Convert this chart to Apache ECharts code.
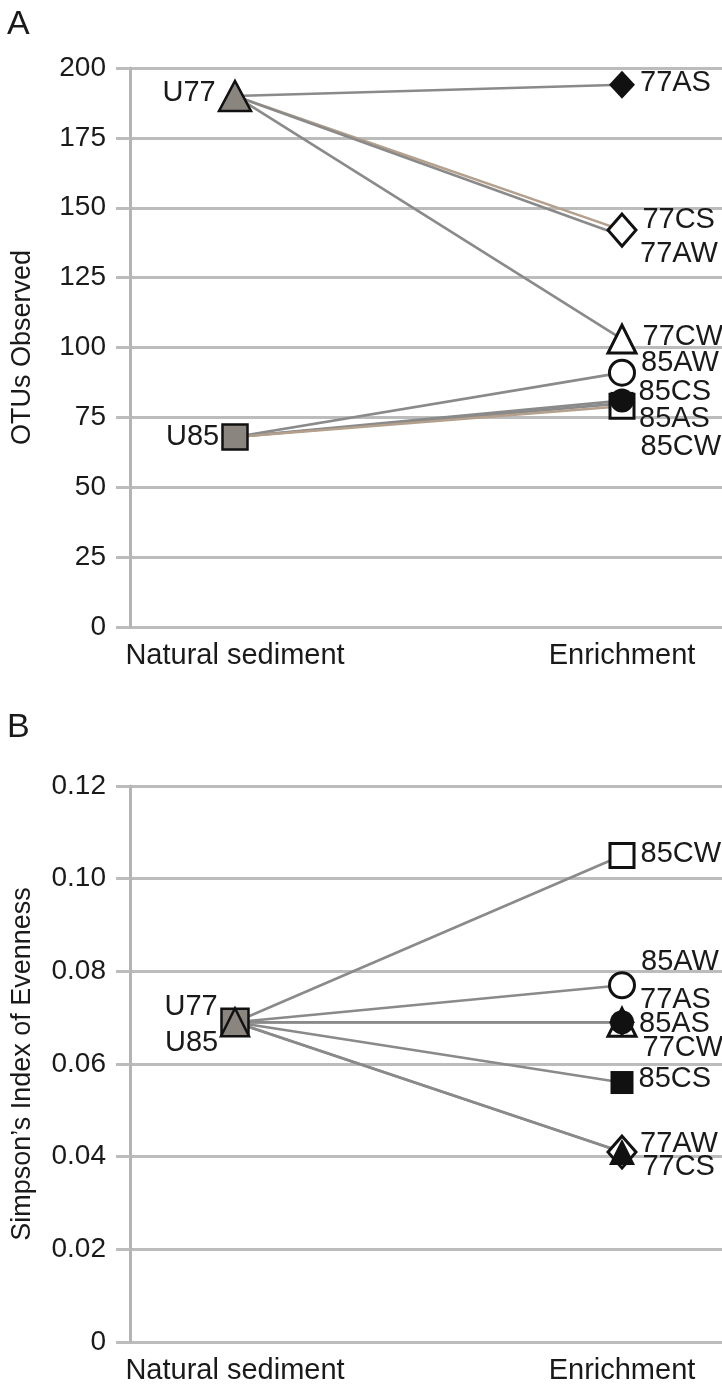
<!DOCTYPE html>
<html>
<head>
<meta charset="utf-8">
<script src="https://cdn.jsdelivr.net/npm/echarts@6/dist/echarts.min.js"></script>
<style>
html,body{margin:0;padding:0;background:#fff;}
#chart{width:722px;height:1385px;}
</style>
</head>
<body>
<div id="chart"></div>
<script>
// ---------- DATA ----------
const categories = ['Natural sediment', 'Enrichment'];
const naturalSamples = ['U77', 'U85'];
const enrichmentSamples = ['77AS', '77CS', '77AW', '77CW', '85AS', '85AW', '85CS', '85CW'];
const otusNatural = [190, 68];
const otusEnrichment = [194, 142, 140, 103, 81, 91, 80, 79];
const simpsonNatural = [0.069, 0.069];
const simpsonEnrichment = [0.069, 0.041, 0.041, 0.069, 0.069, 0.077, 0.056, 0.105];
const otusTicks = [0, 25, 50, 75, 100, 125, 150, 175, 200];
const simpsonTicks = [0, 0.02, 0.04, 0.06, 0.08, 0.10, 0.12];

// ---------- STYLE ----------
const FONT = '"Liberation Sans", Arial, Helvetica, sans-serif';
const TXT = '#1a1a1a';
const GRID = '#bcbcbc';
const BLACK = '#111111';
const GRAY = '#8a8a8a';
const TAN = '#b4a08c';
const markerStyle = {
  '77AS': {symbol: 'diamond', fill: BLACK, size: [26, 28]},
  '77CS': {symbol: 'diamond', fill: '#ffffff', size: [28, 32]},
  '77AW': {symbol: 'triangle', fill: BLACK, size: [26, 26]},
  '77CW': {symbol: 'triangle', fill: '#ffffff', size: [28, 28]},
  '85AS': {symbol: 'circle', fill: BLACK, size: 24},
  '85AW': {symbol: 'circle', fill: '#ffffff', size: 25},
  '85CS': {symbol: 'rect', fill: BLACK, size: 23},
  '85CW': {symbol: 'rect', fill: '#ffffff', size: 24}
};
const panels = [
  {
    natural: otusNatural, enrichment: otusEnrichment, ticks: otusTicks,
    title: 'OTUs Observed', top: 68, height: 559,
    natSize: {U77: [32, 30], U85: 25}, natOffset: {U77: -3, U85: 0},
    natOrder: ['U77', 'U85'],
    order: ['85CS', '85CW', '85AS', '85AW', '77AW', '77CS', '77CW', '77AS'],
    sizeOverride: {'77AW': [12, 12]},
    lineColor: {'77CS': TAN, '85CW': TAN},
    labelOffset: {'77AS': -2, '77CS': -10, '77AW': 18, '77CW': -2, '85AW': -10, '85CS': -11, '85AS': 18, '85CW': 41},
    fmt: v => String(v)
  },
  {
    natural: simpsonNatural, enrichment: simpsonEnrichment, ticks: simpsonTicks,
    title: 'Simpson\u2019s Index of Evenness', top: 786, height: 567,
    natSize: {U77: [28, 28], U85: 27}, natOffset: {U77: -15, U85: 21},
    natOrder: ['U85', 'U77'],
    order: ['77CW', '77AS', '85AS', '85AW', '85CS', '85CW', '77CS', '77AW'],
    sizeOverride: {},
    lineColor: {},
    labelOffset: {'85CW': -2, '85AW': -23, '77AS': -22, '85AS': 2, '77CW': 26, '85CS': -4, '77AW': -8, '77CS': 15},
    fmt: v => (v === 0 ? '0' : v.toFixed(2))
  }
];

function widthOf(size) { return Array.isArray(size) ? size[0] : size; }

// ---------- BUILD ----------
const grids = [], xAxes = [], yAxes = [], series = [];
panels.forEach((p, g) => {
  grids.push({left: 130, right: 0, top: p.top, height: p.height});
  xAxes.push({
    gridIndex: g, type: 'value', min: -0.2713, max: 1.2584,
    axisLine: {show: false}, axisTick: {show: false}, splitLine: {show: false},
    axisLabel: {
      customValues: [0, 1],
      formatter: v => categories[Math.round(v)],
      fontSize: 29, fontFamily: FONT, color: TXT, margin: 14
    }
  });
  const tmax = p.ticks[p.ticks.length - 1];
  yAxes.push({
    gridIndex: g, type: 'value', min: p.ticks[0], max: tmax,
    interval: p.ticks[1] - p.ticks[0],
    axisLine: {show: true, onZero: false, lineStyle: {color: '#b4b4b4', width: 3}},
    axisTick: {show: true, length: 14, lineStyle: {color: GRID, width: 3}},
    splitLine: {show: true, lineStyle: {color: GRID, width: 3}},
    axisLabel: {fontSize: 28, fontFamily: FONT, color: TXT, margin: 24, formatter: p.fmt},
    name: p.title, nameLocation: 'middle', nameGap: 94, nameRotate: 90,
    nameTextStyle: {fontSize: 27, fontFamily: FONT, color: TXT}
  });
  // connecting lines
  enrichmentSamples.forEach((s, i) => {
    const parent = s.startsWith('77') ? 0 : 1;
    series.push({
      type: 'line', xAxisIndex: g, yAxisIndex: g, symbol: 'none', silent: true,
      lineStyle: {color: p.lineColor[s] || GRAY, width: 2.6}, z: 2,
      data: [[0, p.natural[parent]], [1, p.enrichment[i]]]
    });
  });
  // natural sediment markers
  p.natOrder.forEach(n => {
    const i = naturalSamples.indexOf(n);
    series.push({
      type: 'scatter', xAxisIndex: g, yAxisIndex: g, z: 3,
      symbol: n === 'U77' ? 'triangle' : 'rect', symbolSize: p.natSize[n],
      itemStyle: {color: '#8a857f', borderColor: BLACK, borderWidth: 2.5, opacity: 1},
      label: {show: true, position: 'left', distance: 2, offset: [0, p.natOffset[n]],
        formatter: n, fontSize: 29, fontFamily: FONT, color: TXT},
      data: [[0, p.natural[i]]]
    });
  });
  // enrichment markers
  p.order.forEach(s => {
    const i = enrichmentSamples.indexOf(s);
    const m = markerStyle[s];
    const hollow = m.fill === '#ffffff';
    const size = p.sizeOverride[s] || m.size;
    const dx = (widthOf(m.size) - widthOf(size)) / 2;
    series.push({
      type: 'scatter', xAxisIndex: g, yAxisIndex: g, z: 3,
      symbol: m.symbol, symbolSize: size,
      itemStyle: {color: m.fill, borderColor: BLACK, borderWidth: hollow ? 3 : 0, opacity: 1},
      label: {show: true, position: 'right', distance: 5, offset: [dx, p.labelOffset[s]],
        formatter: s, fontSize: 29, fontFamily: FONT, color: TXT},
      data: [[1, p.enrichment[i]]]
    });
  });
});

const chart = echarts.init(document.getElementById('chart'), null, {renderer: 'canvas'});
chart.setOption({
  animation: false,
  backgroundColor: '#ffffff',
  title: [
    {text: 'A', left: 7, top: 8, padding: 0, textStyle: {fontSize: 34, fontWeight: 'normal', fontFamily: FONT, color: TXT}},
    {text: 'B', left: 7, top: 711, padding: 0, textStyle: {fontSize: 34, fontWeight: 'normal', fontFamily: FONT, color: TXT}}
  ],
  grid: grids, xAxis: xAxes, yAxis: yAxes, series: series
});
</script>
</body>
</html>
